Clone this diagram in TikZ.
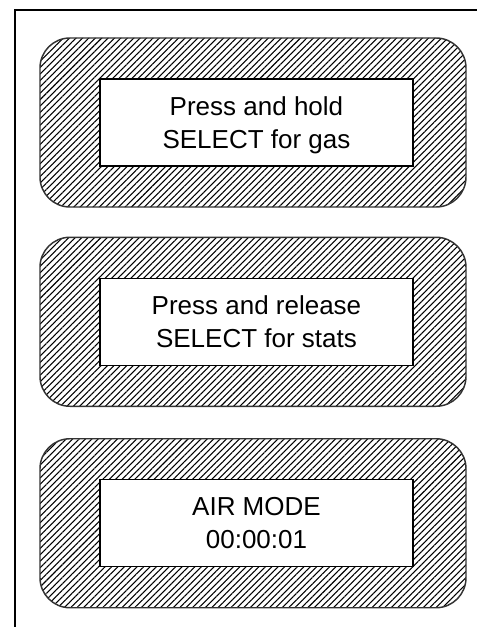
\documentclass[tikz,border=0pt]{standalone}
\usepackage{fontspec}
\setmainfont{Liberation Sans}
\usetikzlibrary{patterns.meta,positioning}
\tikzset{
  panel/.style={draw=black!80,line width=1.1pt,rounded corners=22.5pt,
    pattern={Lines[angle=45,distance=3.4pt,line width=0.8pt]},
    minimum width=319.5pt,minimum height=126.75pt,inner sep=0pt},
  screen/.style={draw=black,line width=1.1pt,fill=white,align=center,
    minimum width=234.75pt,minimum height=65.25pt,inner sep=0pt,
    text depth=-2pt,font=\fontsize{19.5}{24.75}\selectfont},
  frameline/.style={line width=1.5pt}
}
\begin{document}
\begin{tikzpicture}[x=0.75pt,y=-0.75pt]
  \useasboundingbox (0,0) rectangle (477,627);
  \draw[frameline] (15,627) |- (477,10);

  \node[panel] (gaspanel) at (253,122.5) {};
  \node[panel,below=21.75pt of gaspanel] (statspanel) {};
  \node[panel,below=23.25pt of statspanel] (airpanel) {};

  \node[screen] (gas) at ([xshift=2.6pt]gaspanel.center) {Press and hold\\SELECT for gas};
  \node[screen] (stats) at ([xshift=2.6pt]statspanel.center) {Press and release\\SELECT for stats};
  \node[screen] (air) at ([xshift=2.6pt]airpanel.center) {AIR MODE\\00:00:01};
\end{tikzpicture}
\end{document}
